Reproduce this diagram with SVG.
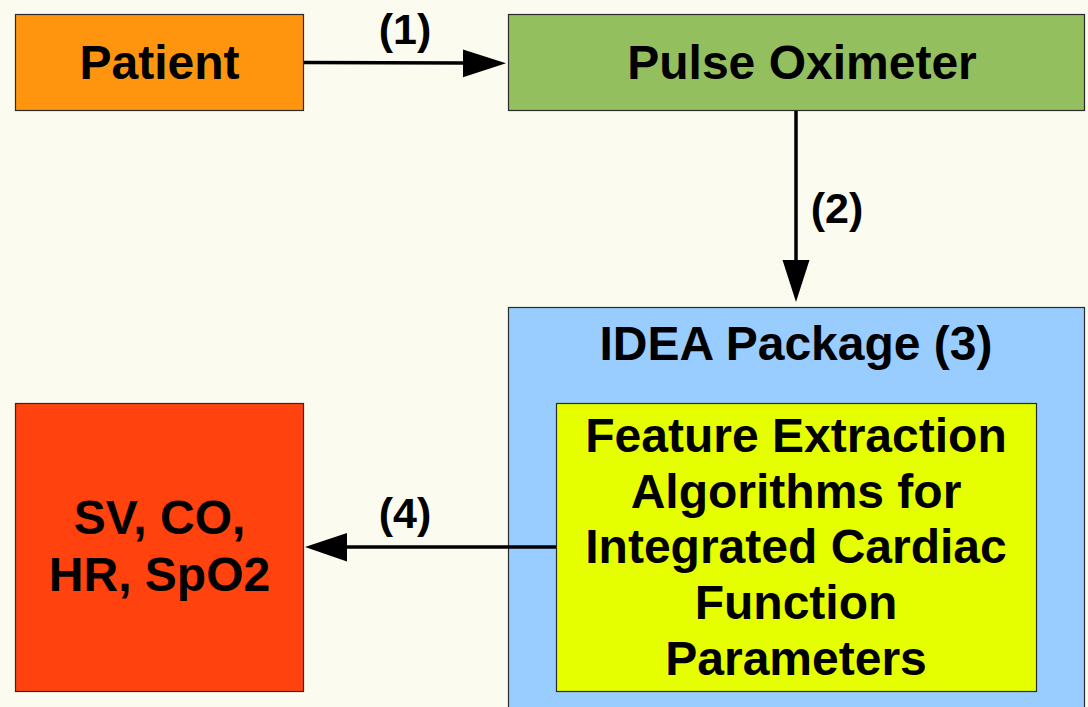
<svg xmlns="http://www.w3.org/2000/svg" width="1088" height="707" viewBox="0 0 1088 707">
<style>
.box{stroke:#2b2b2b;stroke-width:1.2}
.t{font-family:"Liberation Sans",Arial,sans-serif;font-weight:bold;font-size:48px;fill:#000;text-anchor:middle}
.lbl{font-family:"Liberation Sans",Arial,sans-serif;font-weight:bold;font-size:43px;fill:#000;text-anchor:middle}
.ln{stroke:#000;stroke-width:3.5;fill:none}
</style>
<rect width="1088" height="707" fill="#fbfbf0"/>
<g id="patient">
<rect class="box" x="15.5" y="14.5" width="288" height="96" fill="#ff950e"/>
<text class="t" x="159.5" y="79">Patient</text>
</g>
<g id="pulse-oximeter">
<rect class="box" x="508.5" y="14.5" width="576" height="96" fill="#93bf5f"/>
<text class="t" x="802" y="79">Pulse Oximeter</text>
</g>
<g id="idea-package">
<rect class="box" x="508.5" y="307.5" width="576" height="420" fill="#99ccff" stroke="#555"/>
<text class="t" x="796" y="360">IDEA Package (3)</text>
</g>
<g id="feature-extraction">
<rect class="box" x="556.5" y="403.5" width="480" height="288" fill="#e6ff00"/>
<text class="t" x="796" y="452">Feature Extraction</text>
<text class="t" x="796" y="508">Algorithms for</text>
<text class="t" x="796" y="563">Integrated Cardiac</text>
<text class="t" x="796" y="619">Function</text>
<text class="t" x="796" y="675">Parameters</text>
</g>
<g id="outputs">
<rect class="box" x="15.5" y="403.5" width="288" height="288" fill="#ff420e"/>
<text class="t" x="159.5" y="534">SV, CO,</text>
<text class="t" x="159.5" y="591">HR, SpO2</text>
</g>
<g id="connectors">
<line class="ln" x1="304" y1="62.5" x2="465" y2="63"/>
<polygon points="463,49.5 506,63.3 463,77.3" fill="#000"/>
<text class="lbl" x="405" y="44">(1)</text>
<line class="ln" x1="796" y1="111" x2="796" y2="262"/>
<polygon points="782.5,260 809.5,260 796,302" fill="#000"/>
<text class="lbl" x="837" y="223">(2)</text>
<line class="ln" x1="556" y1="547" x2="345" y2="547"/>
<polygon points="347,533 305,547 347,561.5" fill="#000"/>
<text class="lbl" x="405" y="528">(4)</text>
</g>
</svg>
